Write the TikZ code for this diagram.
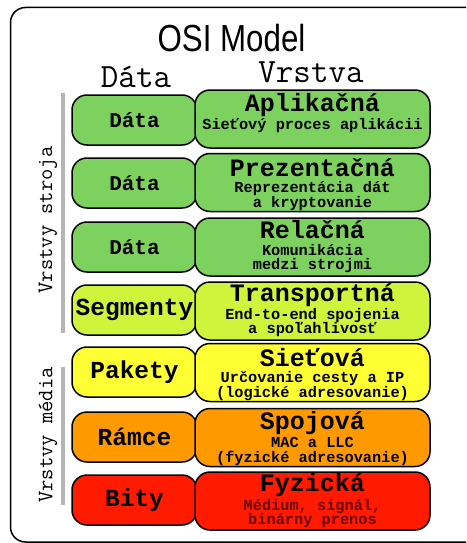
\documentclass[tikz,border=0pt]{standalone}
\usepackage{fontspec}
\setmainfont{Liberation Sans}
\setmonofont{Liberation Mono}
\newfontfamily\headfont{Latin Modern Mono}
\usepackage{tikz}
\usetikzlibrary{calc}
\definecolor{osiGreen}{RGB}{125,210,95}
\definecolor{osiLime}{RGB}{206,245,60}
\definecolor{osiYellow}{RGB}{255,255,51}
\definecolor{osiOrange}{RGB}{255,153,0}
\definecolor{osiRed}{RGB}{255,26,0}
\definecolor{osiDark}{RGB}{105,0,0}
\definecolor{osiBar}{RGB}{180,180,180}

\begin{document}
\begin{tikzpicture}[x=1pt,y=-1pt,
  databox/.style={draw=black,line width=1.5pt,rounded corners=15pt,
                  minimum width=125pt,minimum height=50pt,inner sep=0pt,
                  font=\ttfamily\bfseries\fontsize{24.5}{24.5}\selectfont},
  layerbox/.style={draw=black,line width=1.5pt,rounded corners=15pt,
                   minimum width=235pt,minimum height=58pt,inner sep=0pt},
  ltitle/.style={font=\ttfamily\bfseries\fontsize{25}{25}\selectfont,inner sep=0pt},
  lsub/.style={font=\ttfamily\bfseries\fontsize{15.3}{14.5}\selectfont,
               align=center,inner sep=0pt,anchor=north},
  side/.style={font=\headfont\fontsize{22}{22}\selectfont,rotate=90,inner sep=0pt},
  head/.style={font=\headfont\fontsize{34}{34}\selectfont,inner sep=0pt,anchor=base}]
\useasboundingbox (0,0) rectangle (466,543);
\clip (0,0) rectangle (466,543);

% frame, cut by the page on the right
\draw[line width=1.5pt,rounded corners=15pt] (10.5,7.5) rectangle (490,542);

% title and column heads
\node[font=\fontsize{37.7}{37.7}\selectfont,inner sep=0pt,anchor=base] (title) at (231.5,52)
   {\scalebox{0.83}[1]{OSI Model}};
\node[head] (hdata) at (136,87) {Dáta};
\node[head] (hlayer) at (311,82) {Vrstva};

% side bars
\fill[osiBar] (60.5,93) rectangle (64.5,333);
\fill[osiBar] (60.5,367) rectangle (64.5,505);
\node[side] (sstroja) at (48,220) {Vrstvy stroja};
\node[side] (smedia) at (48,435) {Vrstvy média};

% ===== rows =====
\node[databox,fill=osiGreen,font=\ttfamily\bfseries\fontsize{21}{21}\selectfont] (d1) at (134.5,120) {Dáta};
\node[layerbox,fill=osiGreen] (v1) at (312.5,119) {};
\node[ltitle] (v1t) at ($(v1.center)+(0,-14)$) {Aplikačná};
\node[lsub] (v1s) at ($(v1.center)+(0,-1)$) {Sieťový proces aplikácii};

\node[databox,fill=osiGreen,font=\ttfamily\bfseries\fontsize{21}{21}\selectfont] (d2) at (134.5,183) {Dáta};
\node[layerbox,fill=osiGreen] (v2) at (312.5,182.5) {};
\node[ltitle] (v2t) at ($(v2.center)+(0,-15)$) {Prezentačná};
\node[lsub] (v2s) at ($(v2.center)+(0,-1)$) {Reprezentácia dát\\a kryptovanie};

\node[databox,fill=osiGreen,font=\ttfamily\bfseries\fontsize{21}{21}\selectfont] (d3) at (134.5,247) {Dáta};
\node[layerbox,fill=osiGreen] (v3) at (312.5,247) {};
\node[ltitle] (v3t) at ($(v3.center)+(0,-17)$) {Relačná};
\node[lsub] (v3s) at ($(v3.center)+(0,-3)$) {Komunikácia\\medzi strojmi};

\node[databox,fill=osiLime] (d4) at (134.5,310) {Segmenty};
\node[layerbox,fill=osiLime] (v4) at (312.5,311) {};
\node[ltitle] (v4t) at ($(v4.center)+(0,-16)$) {Transportná};
\node[lsub] (v4s) at ($(v4.center)+(0,-3)$) {End-to-end spojenia\\a spoľahlivosť};

\node[databox,fill=osiYellow] (d5) at (134.5,372) {Pakety};
\node[layerbox,fill=osiYellow] (v5) at (312.5,372.5) {};
\node[ltitle] (v5t) at ($(v5.center)+(0,-15)$) {Sieťová};
\node[lsub] (v5s) at ($(v5.center)+(0,-1)$) {Určovanie cesty a IP\\(logické adresovanie)};

\node[databox,fill=osiOrange] (d6) at (134.5,437) {Rámce};
\node[layerbox,fill=osiOrange] (v6) at (312.5,437.5) {};
\node[ltitle] (v6t) at ($(v6.center)+(0,-14)$) {Spojová};
\node[lsub] (v6s) at ($(v6.center)+(0,0)$) {MAC a LLC\\(fyzické adresovanie)};

\node[databox,fill=osiRed] (d7) at (134.5,500) {Bity};
\node[layerbox,fill=osiRed] (v7) at (312.5,501) {};
\node[ltitle] (v7t) at ($(v7.center)+(0,-16)$) {Fyzická};
\node[lsub,text=osiDark] (v7s) at ($(v7.center)+(0,-2)$) {Médium, signál,\\binárny prenos};
\end{tikzpicture}
\end{document}
